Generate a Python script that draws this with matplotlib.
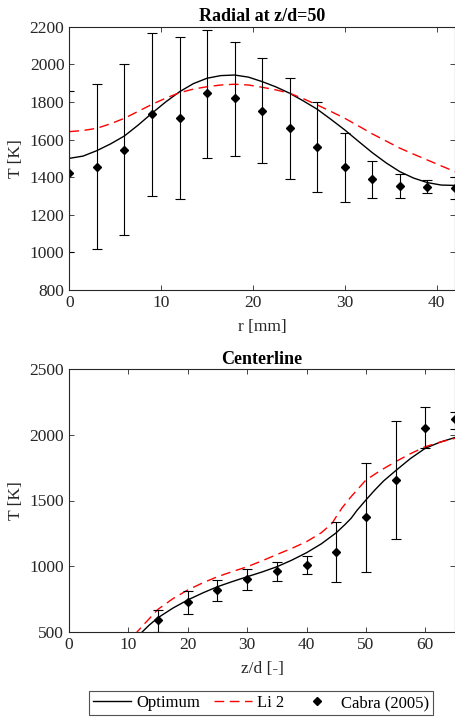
import numpy as np
import matplotlib
matplotlib.use("Agg")
import matplotlib.pyplot as plt
from matplotlib.lines import Line2D

# ── radial profile at z/d = 50 ──────────────────────────────────
r_model = [0, 1.5, 3, 4.5, 6, 7.5, 9, 10.5, 12, 13.5, 15, 16.5, 18, 19.5, 21,
           22.5, 24, 25.5, 27, 28.5, 30, 31.5, 33, 34.5, 36, 37.5, 39, 40.5, 42]
T_rad_opt = [1500, 1512, 1541, 1577, 1619, 1677, 1740, 1800, 1854, 1897, 1926,
             1940, 1943, 1932, 1908, 1880, 1846, 1805, 1761, 1707, 1651, 1590,
             1530, 1476, 1429, 1395, 1371, 1358, 1356]
T_rad_li2 = [1642, 1648, 1660, 1684, 1713, 1750, 1787, 1820, 1849, 1868, 1881,
             1890, 1894, 1890, 1878, 1864, 1846, 1817, 1784, 1749, 1713, 1672,
             1630, 1592, 1554, 1522, 1491, 1460, 1429]

r_exp = [0, 3, 6, 9, 12, 15, 18, 21, 24, 27, 30, 33, 36, 39, 42]
T_rad_exp = [1421, 1456, 1544, 1734, 1716, 1846, 1819, 1753, 1660, 1562, 1452,
             1389, 1355, 1349, 1341]
T_rad_lo = [1000, 1020, 1095, 1300, 1283, 1504, 1513, 1474, 1389, 1323, 1270,
            1288, 1291, 1318, 1282]
T_rad_hi = [1858, 1894, 2000, 2165, 2147, 2182, 2120, 2032, 1929, 1800, 1633,
            1488, 1417, 1385, 1399]

# ── centerline ──────────────────────────────────────────────────
z_opt = [12, 13.5, 15, 17.5, 20, 22.5, 25, 27.5, 30, 32.5, 35, 37.5, 40, 42.5,
         45, 46.5, 47.5, 48.5, 50, 51.5, 53, 55, 57.5, 60, 62.5, 65]
T_cl_opt = [484, 550, 607, 680, 742, 795, 843, 882, 919, 955, 995, 1045, 1102,
            1170, 1254, 1318, 1364, 1425, 1504, 1580, 1650, 1727, 1820, 1898,
            1945, 1980]
z_li2 = [11, 12.5, 15, 17.5, 20, 22.5, 25, 27.5, 30, 32.5, 35, 37.5, 40, 42.5,
         44.3, 45, 46, 47.5, 50, 52.5, 55, 57.5, 60, 62.5, 65]
T_cl_li2 = [475, 550, 671, 752, 818, 872, 919, 958, 995, 1040, 1088, 1135, 1186,
            1255, 1326, 1377, 1445, 1529, 1656, 1730, 1796, 1857, 1910, 1945, 1974]

z_exp = [15, 20, 25, 30, 35, 40, 45, 50, 55, 60, 65]
T_cl_exp = [589, 724, 820, 902, 962, 1008, 1110, 1372, 1659, 2055, 2119]
T_cl_lo = [500, 635, 736, 818, 886, 937, 881, 957, 1207, 1898, 2042]
T_cl_hi = [665, 810, 894, 976, 1033, 1079, 1338, 1784, 2108, 2210, 2177]

plt.rcParams["font.family"] = ["Liberation Serif", "DejaVu Serif"]
plt.rcParams["font.size"] = 12.5

GREY = "#262626"
RED = "#ff0000"
MS = 4.2

fig = plt.figure(figsize=(4.55, 7.17), dpi=100)
W, H = 455, 717
ax1 = fig.add_axes([69.3 / W, 1 - 290 / H, (455 - 69.3) / W, (290 - 26.7) / H])
ax2 = fig.add_axes([69 / W, 1 - 631.7 / H, (455 - 69) / W, (631.7 - 369.3) / H])


def style(ax):
    for s in ax.spines.values():
        s.set_color(GREY)
        s.set_linewidth(0.8)
    ax.tick_params(direction="in", length=3.6, width=0.6, top=True, right=True,
                   colors=GREY, labelcolor=GREY, labelsize=12.5)


def draw(ax, xm, ym, xl, yl, xe, ye, lo, hi):
    ax.plot(xm, ym, color="k", lw=1.0)
    ax.plot(xl, yl, color=RED, lw=1.0, dashes=(7, 4))
    ye_a = np.array(ye)
    yerr = [ye_a - np.array(lo), np.array(hi) - ye_a]
    ax.errorbar(xe, ye, yerr=yerr, fmt="none", ecolor="k", elinewidth=0.8,
                capsize=3.6, capthick=0.8)
    ax.plot(xe, ye, linestyle="none", marker="D", markersize=MS,
            color="k", markerfacecolor="k")


draw(ax1, r_model, T_rad_opt, r_model, T_rad_li2, r_exp, T_rad_exp,
     T_rad_lo, T_rad_hi)
ax1.set_xlim(0, 42)
ax1.set_ylim(800, 2200)
ax1.set_xticks([0, 10, 20, 30, 40])
ax1.set_yticks(np.arange(800, 2201, 200))
ax1.set_xlabel("r [mm]", color=GREY, labelpad=6)
ax1.set_ylabel("T [K]", color=GREY)
ax1.set_title("Radial at z/d=50", fontweight="bold", fontsize=13, pad=4)
style(ax1)

draw(ax2, z_opt, T_cl_opt, z_li2, T_cl_li2, z_exp, T_cl_exp,
     T_cl_lo, T_cl_hi)
ax2.set_xlim(0, 65)
ax2.set_ylim(500, 2500)
ax2.set_xticks([0, 10, 20, 30, 40, 50, 60])
ax2.set_yticks([500, 1000, 1500, 2000, 2500])
ax2.set_xlabel("z/d [-]", color=GREY, labelpad=6)
ax2.set_ylabel("T [K]", color=GREY)
ax2.set_title("Centerline", fontweight="bold", fontsize=13, pad=4)
style(ax2)

handles = [
    Line2D([], [], color="k", lw=1.0),
    Line2D([], [], color=RED, lw=1.0, dashes=(7, 4)),
    Line2D([], [], linestyle="none", marker="D", markersize=MS, color="k"),
]
leg = fig.legend(handles, ["Optimum", "Li 2", "Cabra (2005)"], ncol=3,
                 loc="center", bbox_to_anchor=(261 / W, 1 - 703 / H),
                 frameon=True, fancybox=False, edgecolor=GREY,
                 handlelength=2.3, columnspacing=0.8, handletextpad=0.3,
                 borderpad=0.25, borderaxespad=0, fontsize=12)
leg.get_frame().set_linewidth(0.8)

fig.savefig("out.png", dpi=100)
